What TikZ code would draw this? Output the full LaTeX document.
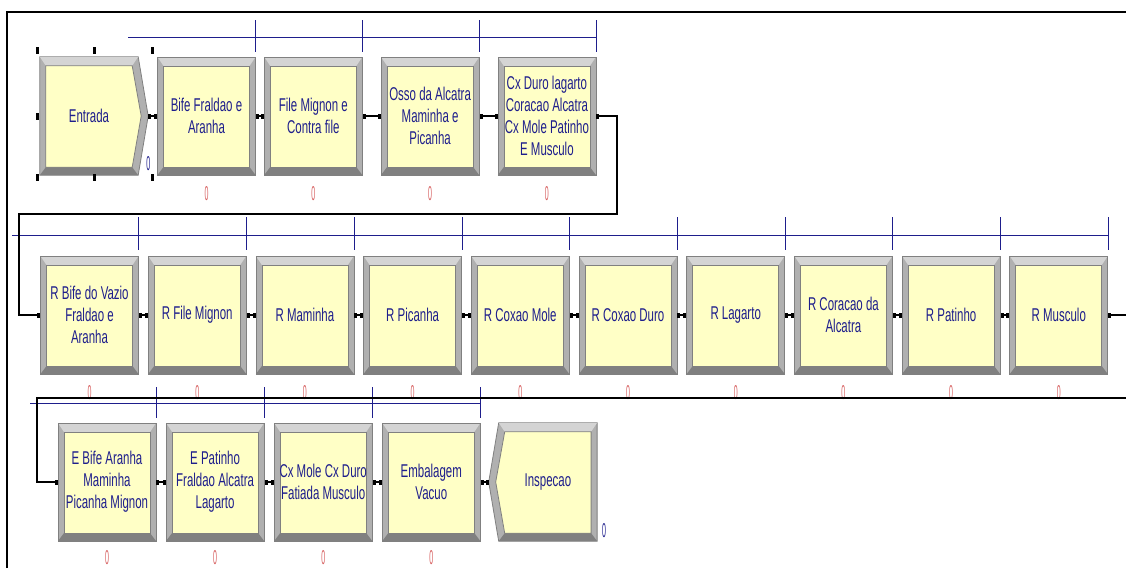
\documentclass[tikz,border=0pt]{standalone}
\usepackage{fontspec}
\setmainfont{Liberation Sans}[FakeStretch=0.62]
\newfontfamily\countfont{Liberation Sans}[FakeStretch=0.35]
\usepackage{tikz}
\usetikzlibrary{positioning, arrows.meta, calc}
\definecolor{arenayellow}{RGB}{255, 255, 198}
\definecolor{arenagray}{RGB}{176, 176, 176}
\definecolor{arenalight}{RGB}{212, 212, 212}
\definecolor{arenadark}{RGB}{128, 128, 128}
\definecolor{arenablue}{RGB}{30, 30, 140}
\definecolor{arenared}{RGB}{215, 95, 95}
\pgfdeclarelayer{bg}
\pgfsetlayers{bg,main}

\begin{document}
\begin{tikzpicture}[x=1pt, y=-1pt,
    every node/.style={align=center, font=\fontsize{18.5}{22}\selectfont, text=arenablue, inner sep=1pt},
    modbox/.style={minimum width=98pt, minimum height=118pt, fill=arenagray, draw=arenadark, line width=0.8pt,
      path picture={
        \fill[arenalight] (path picture bounding box.north west) -- (path picture bounding box.north east)
          -- ([shift={(-6pt,-9pt)}]path picture bounding box.north east) -- ([shift={(6pt,-9pt)}]path picture bounding box.north west) -- cycle;
        \fill[arenadark] (path picture bounding box.south west) -- (path picture bounding box.south east)
          -- ([shift={(-6pt,8pt)}]path picture bounding box.south east) -- ([shift={(6pt,8pt)}]path picture bounding box.south west) -- cycle;
        \filldraw[fill=arenayellow, draw=arenadark, line width=0.8pt] ([shift={(6pt,8pt)}]path picture bounding box.south west)
          rectangle ([shift={(-6pt,-9pt)}]path picture bounding box.north east);
      }},
    pointbox/.style={minimum width=98pt, minimum height=118pt},
    counter/.style={font=\countfont\fontsize{20}{20}\selectfont, text=arenared, inner sep=0pt},
    tally/.style={font=\countfont\fontsize{20}{20}\selectfont, text=arenablue, inner sep=0pt},
    link/.style={line width=1.2pt, {Square[length=3pt, width=5pt]}-{Square[length=3pt, width=5pt]}},
    queue/.style={draw=arenablue, line width=1pt}]

    \begin{pgfonlayer}{bg}
      \fill[white] (0,0) rectangle (1126,568);
    \end{pgfonlayer}
    \useasboundingbox (0,0) rectangle (1126,568);
    \clip (0,0) rectangle (1126,568);
    \draw[line width=2pt] (7,568) |- (1127,12);

    \node[pointbox] (entrada) at (89,116) {Entrada};
    \node[modbox] (bife) at (206.5,116) {Bife Fraldao e\\Aranha};
    \node[modbox, right=8pt of bife] (file) {File Mignon e\\Contra file};
    \node[modbox, right=18pt of file] (osso) {Osso da Alcatra\\Maminha e\\Picanha};
    \node[modbox, right=18pt of osso] (cxduro) {Cx Duro lagarto\\Coracao Alcatra\\Cx Mole Patinho\\E Musculo};

    \node[modbox] (rbife) at (89.5,315) {R Bife do Vazio\\Fraldao e\\Aranha};
    \node[modbox, right=8.9pt of rbife] (rfile) {R File Mignon};
    \node[modbox, right=8.9pt of rfile] (rmaminha) {R Maminha};
    \node[modbox, right=8.9pt of rmaminha] (rpicanha) {R Picanha};
    \node[modbox, right=8.9pt of rpicanha] (rcxmole) {R Coxao Mole};
    \node[modbox, right=8.9pt of rcxmole] (rcxduro) {R Coxao Duro};
    \node[modbox, right=8.9pt of rcxduro] (rlagarto) {R Lagarto};
    \node[modbox, right=8.9pt of rlagarto] (rcoracao) {R Coracao da\\Alcatra};
    \node[modbox, right=8.9pt of rcoracao] (rpatinho) {R Patinho};
    \node[modbox, right=8.9pt of rpatinho] (rmusculo) {R Musculo};

    \node[modbox] (ebife) at (107,482) {E Bife Aranha\\Maminha\\Picanha Mignon};
    \node[modbox, right=9.3pt of ebife] (epatinho) {E Patinho\\Fraldao Alcatra\\Lagarto};
    \node[modbox, right=9.3pt of epatinho] (cxmole) {Cx Mole Cx Duro\\Fatiada Musculo};
    \node[modbox, right=9.3pt of cxmole] (embalagem) {Embalagem\\Vacuo};
    \node[pointbox, right=18pt of embalagem] (inspecao) {Inspecao};

    \begin{pgfonlayer}{bg}
      \coordinate (entrada-tip) at ([xshift=10pt]entrada.east);
      \filldraw[fill=arenagray, draw=arenadark, line width=0.8pt] (entrada.north west) -- (entrada.north east) -- (entrada-tip)
        -- (entrada.south east) -- (entrada.south west) -- cycle;
      \fill[arenalight] (entrada.north west) -- (entrada.north east) -- ([shift={(-6pt,-9pt)}]entrada.north east)
        -- ([shift={(6pt,-9pt)}]entrada.north west) -- cycle;
      \fill[arenadark] (entrada.south west) -- (entrada.south east) -- ([shift={(-6pt,8pt)}]entrada.south east)
        -- ([shift={(6pt,8pt)}]entrada.south west) -- cycle;
      \filldraw[fill=arenayellow, draw=arenadark, line width=0.8pt] ([shift={(6pt,-9pt)}]entrada.north west)
        -- ([shift={(-6pt,-9pt)}]entrada.north east) -- ([xshift=-7pt]entrada-tip) -- ([shift={(-6pt,8pt)}]entrada.south east)
        -- ([shift={(6pt,8pt)}]entrada.south west) -- cycle;

      \coordinate (inspecao-tip) at ([xshift=-10pt]inspecao.west);
      \filldraw[fill=arenagray, draw=arenadark, line width=0.8pt] (inspecao.north west) -- (inspecao.north east)
        -- (inspecao.south east) -- (inspecao.south west) -- (inspecao-tip) -- cycle;
      \fill[arenalight] (inspecao.north west) -- (inspecao.north east) -- ([shift={(-6pt,-9pt)}]inspecao.north east)
        -- ([shift={(6pt,-9pt)}]inspecao.north west) -- cycle;
      \fill[arenadark] (inspecao.south west) -- (inspecao.south east) -- ([shift={(-6pt,8pt)}]inspecao.south east)
        -- ([shift={(6pt,8pt)}]inspecao.south west) -- cycle;
      \filldraw[fill=arenayellow, draw=arenadark, line width=0.8pt] ([shift={(6pt,-9pt)}]inspecao.north west)
        -- ([shift={(-6pt,-9pt)}]inspecao.north east) -- ([shift={(-6pt,8pt)}]inspecao.south east)
        -- ([shift={(6pt,8pt)}]inspecao.south west) -- ([xshift=7pt]inspecao-tip) -- cycle;
    \end{pgfonlayer}

    \foreach \hx/\hy in {37/50, 94/50, 152/50, 37/116, 37/177, 94/177, 152/177}
      \fill (\hx-1.5,\hy-3.5) rectangle ++(3,7);

    \coordinate (q1) at (128,37);
    \draw[queue] (q1) -- (q1 -| cxduro.east);
    \foreach \n in {bife,file,osso,cxduro}
      \draw[queue] ([yshift=5pt]\n.north east) -- ++(0,-32);
    \coordinate (q2) at (12,235);
    \draw[queue] (q2) -- (q2 -| rmusculo.east);
    \foreach \n in {rbife,rfile,rmaminha,rpicanha,rcxmole,rcxduro,rlagarto,rcoracao,rpatinho,rmusculo}
      \draw[queue] ([yshift=6pt]\n.north east) -- ++(0,-33);
    \coordinate (q3) at (30,403);
    \draw[queue] (q3) -- (q3 -| embalagem.east);
    \foreach \n in {ebife,epatinho,cxmole,embalagem}
      \draw[queue] ([yshift=5pt]\n.north east) -- ++(0,-31);

    \foreach \n in {bife,file,osso,cxduro,rbife,rfile,rmaminha,rpicanha,rcxmole,rcxduro,rlagarto,rcoracao,rpatinho,rmusculo}
      \node[counter] (\n-cnt) at ([yshift=-18pt]\n.south) {0};
    \foreach \n in {ebife,epatinho,cxmole,embalagem}
      \node[counter] (\n-cnt) at ([yshift=-16pt]\n.south) {0};
    \node[tally] (entrada-cnt) at ([shift={(10pt,12pt)}]entrada.south east) {0};
    \node[tally] (inspecao-cnt) at ([shift={(7pt,11pt)}]inspecao.south east) {0};

    \coordinate (wrap1a) at (617,214);
    \coordinate (wrap1b) at (19,214);
    \coordinate (wrap2a) at (1140,398);
    \coordinate (wrap2b) at (37,398);

    \draw[link] (entrada-tip) -- (bife.west);
    \draw[link] (bife) -- (file);
    \draw[link] (file) -- (osso);
    \draw[link] (osso) -- (cxduro);
    \draw[link] (cxduro.east) -| (wrap1a) -- (wrap1b) |- (rbife.west);
    \draw[link] (rbife) -- (rfile);
    \draw[link] (rfile) -- (rmaminha);
    \draw[link] (rmaminha) -- (rpicanha);
    \draw[link] (rpicanha) -- (rcxmole);
    \draw[link] (rcxmole) -- (rcxduro);
    \draw[link] (rcxduro) -- (rlagarto);
    \draw[link] (rlagarto) -- (rcoracao);
    \draw[link] (rcoracao) -- (rpatinho);
    \draw[link] (rpatinho) -- (rmusculo);
    \draw[link] (rmusculo.east) -| (wrap2a) -- (wrap2b) |- (ebife.west);
    \draw[link] (ebife) -- (epatinho);
    \draw[link] (epatinho) -- (cxmole);
    \draw[link] (cxmole) -- (embalagem);
    \draw[link] (embalagem.east) -- (inspecao-tip);
  \end{tikzpicture}
\end{document}
